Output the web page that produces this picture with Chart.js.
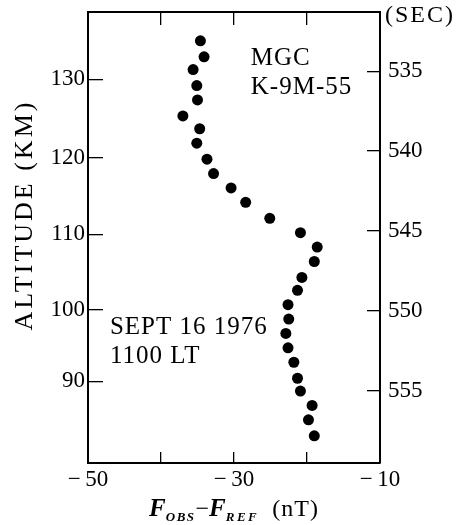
<!DOCTYPE html>
<html>
<head>
<meta charset="utf-8">
<script src="https://cdn.jsdelivr.net/npm/chart.js@4"></script>
<style>
  body { margin: 0; background: #fff; }
</style>
</head>
<body>
<canvas id="chart" width="456" height="525"></canvas>
<script>
// values
const fDiff = [-34.6, -34.1, -35.6, -35.1, -35.0, -37.0, -34.7, -35.1, -33.7, -32.8,
               -30.4, -28.4, -25.1, -20.9, -18.6, -19.0, -20.7, -21.3, -22.6, -22.5,
               -22.9, -22.6, -21.8, -21.3, -20.9, -19.3, -19.8, -19.0];
const flightTime = [533.1, 534.1, 534.9, 535.9, 536.8, 537.8, 538.6, 539.5, 540.5, 541.4,
                    542.3, 543.2, 544.2, 545.1, 546.0, 546.9, 547.9, 548.7, 549.6, 550.5,
                    551.4, 552.3, 553.2, 554.2, 555.0, 555.9, 556.8, 557.8];

const timeTicks = [535, 540, 545, 550, 555];
const altitudeTicks = [130, 120, 110, 100, 90];
const altitudeTickTime = [535.5, 540.4, 545.2, 549.9, 554.4];
const fTicks = [-50, -40, -30, -20, -10];
const fLabelled = [-50, -30, -10];

const fMin = -50, fMax = -10;
const timeMin = 531.3, timeMax = 559.5;

const SERIF = '"Liberation Serif", "Times New Roman", Times, serif';

var points = fDiff.map(function(v, i) { return {x: v, y: flightTime[i]}; });

function fixedTicks(values) {
    return function(scale) { scale.ticks = values.map(function(v) { return {value: v}; }); };
}

// force the box size and drop the label overflow padding chart.js adds
function boxSize(w, h) {
    return function(s) {
        if (w !== null) s.width = w;
        if (h !== null) s.height = h;
        s.paddingTop = 0;
        s.paddingBottom = 0;
        s.paddingLeft = 0;
        s.paddingRight = 0;
    };
}

function minusLabel(v) {
    return v < 0 ? '\u2212\u2009' + Math.abs(v) : String(v);
}

var tickFont = {family: SERIF, size: 23};

var textPlugin = {
    id: 'figureText',
    afterDraw: function(chart) {
        var ctx = chart.ctx;
        var xs = chart.scales.x;
        var ys = chart.scales.yTime;
        var area = chart.chartArea;
        ctx.save();
        ctx.fillStyle = '#000';
        ctx.textBaseline = 'alphabetic';
        ctx.textAlign = 'left';

        // notes inside the plot
        ctx.font = '25px ' + SERIF;
        ctx.letterSpacing = '1px';
        ctx.fillText('MGC', xs.getPixelForValue(-27.7), ys.getPixelForValue(534.6));
        ctx.fillText('K-9M-55', xs.getPixelForValue(-27.7), ys.getPixelForValue(536.45));
        ctx.fillText('SEPT 16 1976', xs.getPixelForValue(-47.0), ys.getPixelForValue(551.44));
        ctx.fillText('1100 LT', xs.getPixelForValue(-47.0), ys.getPixelForValue(553.25));

        // right axis unit
        ctx.font = '24px ' + SERIF;
        ctx.letterSpacing = '2px';
        ctx.fillText('(SEC)', area.right + 5, 22);

        // left axis title
        ctx.save();
        ctx.translate(25, 215);
        ctx.rotate(-Math.PI / 2);
        ctx.textAlign = 'center';
        ctx.textBaseline = 'middle';
        ctx.font = '26px ' + SERIF;
        ctx.letterSpacing = '3px';
        ctx.fillText('ALTITUDE (KM)', 0, 0);
        ctx.restore();

        // bottom axis title: F_OBS - F_REF (nT)
        var parts = [
            {t: 'F', f: 'italic bold 25px ' + SERIF, sp: '0px', dy: 0},
            {t: 'OBS', f: 'italic bold 13px ' + SERIF, sp: '1.5px', dy: 5},
            {t: '\u2212', f: '24px ' + SERIF, sp: '0px', dy: 0},
            {t: 'F', f: 'italic bold 25px ' + SERIF, sp: '0px', dy: 0},
            {t: 'REF', f: 'italic bold 13px ' + SERIF, sp: '2.5px', dy: 5},
            {t: '\u2002(nT)', f: '24px ' + SERIF, sp: '1px', dy: 0}
        ];
        var total = 0;
        parts.forEach(function(p) {
            ctx.font = p.f;
            ctx.letterSpacing = p.sp;
            p.w = ctx.measureText(p.t).width;
            total += p.w;
        });
        var x = (xs.left + xs.right) / 2 - total / 2;
        parts.forEach(function(p) {
            ctx.font = p.f;
            ctx.letterSpacing = p.sp;
            ctx.fillText(p.t, x, 516 + p.dy);
            x += p.w;
        });
        ctx.restore();
    }
};

var axisBorder = {display: true, color: '#000', width: 2};

new Chart(document.getElementById('chart'), {
    type: 'scatter',
    data: {
        datasets: [{
            data: points,
            xAxisID: 'x',
            yAxisID: 'yTime',
            pointRadius: 5.5,
            pointBackgroundColor: '#000',
            pointBorderWidth: 0,
            showLine: false
        }]
    },
    options: {
        responsive: false,
        animation: false,
        layout: {padding: 0},
        plugins: {legend: {display: false}, tooltip: {enabled: false}},
        scales: {
            x: {
                type: 'linear',
                position: 'bottom',
                min: fMin, max: fMax,
                afterBuildTicks: fixedTicks(fTicks),
                afterFit: boxSize(null, 62),
                border: axisBorder,
                grid: {drawOnChartArea: false, tickLength: -11, color: '#000', lineWidth: 1.3},
                ticks: {
                    color: '#000', font: tickFont, padding: 14, maxRotation: 0, autoSkip: false,
                    callback: function(v) { return fLabelled.indexOf(v) >= 0 ? minusLabel(v) : ''; }
                }
            },
            xTop: {
                type: 'linear',
                position: 'top',
                min: fMin, max: fMax,
                afterBuildTicks: fixedTicks(fTicks),
                afterFit: boxSize(null, 12),
                border: axisBorder,
                grid: {drawOnChartArea: false, tickLength: -13, color: '#000', lineWidth: 1.3},
                ticks: {display: false}
            },
            yAlt: {
                type: 'linear',
                position: 'left',
                reverse: true,
                min: timeMin, max: timeMax,
                afterBuildTicks: fixedTicks(altitudeTickTime),
                afterFit: boxSize(88, null),
                border: axisBorder,
                grid: {drawOnChartArea: false, tickLength: -15, color: '#000', lineWidth: 1.3},
                ticks: {
                    color: '#000', font: tickFont, padding: 18, autoSkip: false,
                    callback: function(v) {
                        var i = altitudeTickTime.indexOf(v);
                        return i >= 0 ? String(altitudeTicks[i]) : '';
                    }
                }
            },
            yTime: {
                type: 'linear',
                position: 'right',
                reverse: true,
                min: timeMin, max: timeMax,
                afterBuildTicks: fixedTicks(timeTicks),
                afterFit: boxSize(76, null),
                border: axisBorder,
                grid: {drawOnChartArea: false, tickLength: -13, color: '#000', lineWidth: 1.3},
                ticks: {color: '#000', font: tickFont, padding: 21, autoSkip: false}
            }
        }
    },
    plugins: [textPlugin]
});
</script>
</body>
</html>
